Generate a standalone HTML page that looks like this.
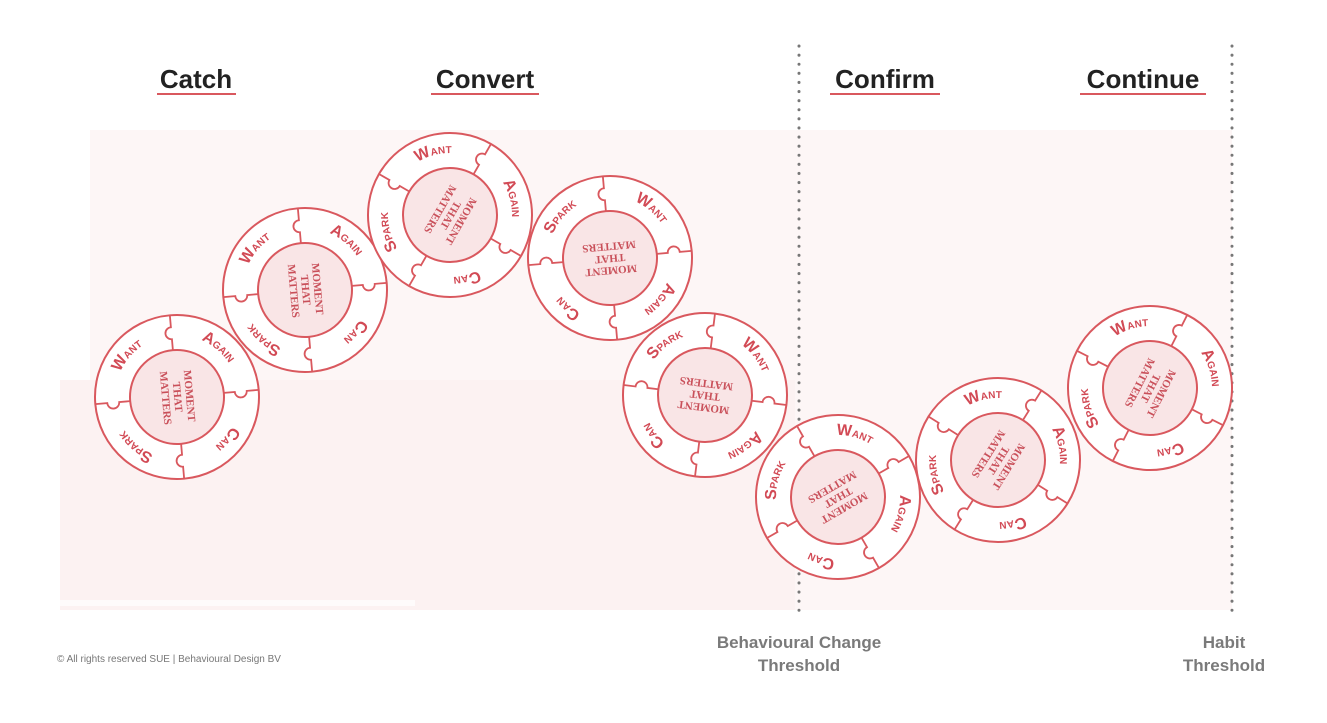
<!DOCTYPE html>
<html><head><meta charset="utf-8"><style>
html,body{margin:0;padding:0;background:#fff;width:1327px;height:723px;overflow:hidden}
svg{display:block}
</style></head><body>
<svg width="1327" height="723" viewBox="0 0 1327 723" xmlns="http://www.w3.org/2000/svg">
<defs>
<path id="arc" d="M0,-62 A62,62 0 1,1 0,62 A62,62 0 1,1 0,-62"/>
</defs>
<!-- background -->
<rect x="90" y="130" width="705" height="480" fill="#fdf6f6"/>
<rect x="60" y="380" width="740" height="230" fill="#fcf2f2"/>
<rect x="795" y="130" width="437" height="480" fill="#fdf6f6"/>
<rect x="60" y="600" width="355" height="6" fill="#fff" opacity=".7"/>

<!-- headings -->
<g font-family="Liberation Sans, sans-serif" font-weight="bold" font-size="26" fill="#222" text-anchor="middle">
<text x="196" y="88">Catch</text>
<text x="485" y="88">Convert</text>
<text x="885" y="88">Confirm</text>
<text x="1143" y="88">Continue</text>
</g>
<g stroke="#d9585e" stroke-width="2">
<line x1="157" y1="94" x2="236" y2="94"/>
<line x1="431" y1="94" x2="539" y2="94"/>
<line x1="830" y1="94" x2="940" y2="94"/>
<line x1="1080" y1="94" x2="1206" y2="94"/>
</g>

<!-- dotted lines -->
<g stroke="#777" stroke-width="3" stroke-linecap="round" stroke-dasharray="0.1 9">
<line x1="799" y1="46" x2="799" y2="612"/>
<line x1="1232" y1="46" x2="1232" y2="612"/>
</g>

<g font-family="Liberation Sans, sans-serif" font-weight="bold" font-size="17" fill="#7a7a7a" text-anchor="middle">
<text x="799" y="648">Behavioural Change</text>
<text x="799" y="671">Threshold</text>
<text x="1224" y="648">Habit</text>
<text x="1224" y="671">Threshold</text>
</g>
<text x="57" y="662" font-family="Liberation Sans, sans-serif" font-size="10" fill="#777">© All rights reserved SUE | Behavioural Design BV</text>

<!-- wheels -->
<g id="w1" transform="translate(177,397) rotate(-5)">
<circle r="82" fill="#fff" stroke="#d9585e" stroke-width="2"/>
<g stroke="#d9585e" stroke-width="1.8" fill="none">
<path d="M0,-47 V-58 a6,6 0 1,1 0,-12 V-82"/><path d="M47,0 H58 a6,6 0 1,0 12,0 H82"/>
<path d="M0,47 V58 a6,6 0 1,0 0,12 V82"/><path d="M-47,0 H-58 a6,6 0 1,1 -12,0 H-82"/>
</g>
<circle r="47" fill="#f9e5e6" stroke="#d9585e" stroke-width="2"/>
<g font-family="Liberation Sans, sans-serif" font-weight="bold" fill="#d24a55" font-size="10" text-anchor="middle">
<text><textPath href="#arc" startOffset="12.5%"><tspan font-size="16">A</tspan>GAIN</textPath></text>
<text><textPath href="#arc" startOffset="37.5%"><tspan font-size="16">C</tspan>AN</textPath></text>
<text><textPath href="#arc" startOffset="62.5%"><tspan font-size="16">S</tspan>PARK</textPath></text>
<text><textPath href="#arc" startOffset="87.5%"><tspan font-size="16">W</tspan>ANT</textPath></text>
</g>
<g transform="rotate(90)" font-family="Liberation Serif, serif" font-weight="bold" font-size="11" fill="#c9505a" text-anchor="middle">
<text y="-9">MOMENT</text><text y="3">THAT</text><text y="15">MATTERS</text>
</g>
</g>

<g transform="translate(305,290) rotate(-5)">
<circle r="82" fill="#fff" stroke="#d9585e" stroke-width="2"/>
<g stroke="#d9585e" stroke-width="1.8" fill="none">
<path d="M0,-47 V-58 a6,6 0 1,1 0,-12 V-82"/><path d="M47,0 H58 a6,6 0 1,0 12,0 H82"/>
<path d="M0,47 V58 a6,6 0 1,0 0,12 V82"/><path d="M-47,0 H-58 a6,6 0 1,1 -12,0 H-82"/>
</g>
<circle r="47" fill="#f9e5e6" stroke="#d9585e" stroke-width="2"/>
<g font-family="Liberation Sans, sans-serif" font-weight="bold" fill="#d24a55" font-size="10" text-anchor="middle">
<text><textPath href="#arc" startOffset="12.5%"><tspan font-size="16">A</tspan>GAIN</textPath></text>
<text><textPath href="#arc" startOffset="37.5%"><tspan font-size="16">C</tspan>AN</textPath></text>
<text><textPath href="#arc" startOffset="62.5%"><tspan font-size="16">S</tspan>PARK</textPath></text>
<text><textPath href="#arc" startOffset="87.5%"><tspan font-size="16">W</tspan>ANT</textPath></text>
</g>
<g transform="rotate(90)" font-family="Liberation Serif, serif" font-weight="bold" font-size="11" fill="#c9505a" text-anchor="middle">
<text y="-9">MOMENT</text><text y="3">THAT</text><text y="15">MATTERS</text>
</g>
</g>

<g transform="translate(450,215) rotate(30)">
<circle r="82" fill="#fff" stroke="#d9585e" stroke-width="2"/>
<g stroke="#d9585e" stroke-width="1.8" fill="none">
<path d="M0,-47 V-58 a6,6 0 1,1 0,-12 V-82"/><path d="M47,0 H58 a6,6 0 1,0 12,0 H82"/>
<path d="M0,47 V58 a6,6 0 1,0 0,12 V82"/><path d="M-47,0 H-58 a6,6 0 1,1 -12,0 H-82"/>
</g>
<circle r="47" fill="#f9e5e6" stroke="#d9585e" stroke-width="2"/>
<g font-family="Liberation Sans, sans-serif" font-weight="bold" fill="#d24a55" font-size="10" text-anchor="middle">
<text><textPath href="#arc" startOffset="12.5%"><tspan font-size="16">A</tspan>GAIN</textPath></text>
<text><textPath href="#arc" startOffset="37.5%"><tspan font-size="16">C</tspan>AN</textPath></text>
<text><textPath href="#arc" startOffset="62.5%"><tspan font-size="16">S</tspan>PARK</textPath></text>
<text><textPath href="#arc" startOffset="87.5%"><tspan font-size="16">W</tspan>ANT</textPath></text>
</g>
<g transform="rotate(90)" font-family="Liberation Serif, serif" font-weight="bold" font-size="11" fill="#c9505a" text-anchor="middle">
<text y="-9">MOMENT</text><text y="3">THAT</text><text y="15">MATTERS</text>
</g>
</g>

<g transform="translate(705,395) rotate(97)">
<circle r="82" fill="#fff" stroke="#d9585e" stroke-width="2"/>
<g stroke="#d9585e" stroke-width="1.8" fill="none">
<path d="M0,-47 V-58 a6,6 0 1,1 0,-12 V-82"/><path d="M47,0 H58 a6,6 0 1,0 12,0 H82"/>
<path d="M0,47 V58 a6,6 0 1,0 0,12 V82"/><path d="M-47,0 H-58 a6,6 0 1,1 -12,0 H-82"/>
</g>
<circle r="47" fill="#f9e5e6" stroke="#d9585e" stroke-width="2"/>
<g font-family="Liberation Sans, sans-serif" font-weight="bold" fill="#d24a55" font-size="10" text-anchor="middle">
<text><textPath href="#arc" startOffset="12.5%"><tspan font-size="16">A</tspan>GAIN</textPath></text>
<text><textPath href="#arc" startOffset="37.5%"><tspan font-size="16">C</tspan>AN</textPath></text>
<text><textPath href="#arc" startOffset="62.5%"><tspan font-size="16">S</tspan>PARK</textPath></text>
<text><textPath href="#arc" startOffset="87.5%"><tspan font-size="16">W</tspan>ANT</textPath></text>
</g>
<g transform="rotate(90)" font-family="Liberation Serif, serif" font-weight="bold" font-size="11" fill="#c9505a" text-anchor="middle">
<text y="-9">MOMENT</text><text y="3">THAT</text><text y="15">MATTERS</text>
</g>
</g>

<g transform="translate(610,258) rotate(85)">
<circle r="82" fill="#fff" stroke="#d9585e" stroke-width="2"/>
<g stroke="#d9585e" stroke-width="1.8" fill="none">
<path d="M0,-47 V-58 a6,6 0 1,1 0,-12 V-82"/><path d="M47,0 H58 a6,6 0 1,0 12,0 H82"/>
<path d="M0,47 V58 a6,6 0 1,0 0,12 V82"/><path d="M-47,0 H-58 a6,6 0 1,1 -12,0 H-82"/>
</g>
<circle r="47" fill="#f9e5e6" stroke="#d9585e" stroke-width="2"/>
<g font-family="Liberation Sans, sans-serif" font-weight="bold" fill="#d24a55" font-size="10" text-anchor="middle">
<text><textPath href="#arc" startOffset="12.5%"><tspan font-size="16">A</tspan>GAIN</textPath></text>
<text><textPath href="#arc" startOffset="37.5%"><tspan font-size="16">C</tspan>AN</textPath></text>
<text><textPath href="#arc" startOffset="62.5%"><tspan font-size="16">S</tspan>PARK</textPath></text>
<text><textPath href="#arc" startOffset="87.5%"><tspan font-size="16">W</tspan>ANT</textPath></text>
</g>
<g transform="rotate(90)" font-family="Liberation Serif, serif" font-weight="bold" font-size="11" fill="#c9505a" text-anchor="middle">
<text y="-9">MOMENT</text><text y="3">THAT</text><text y="15">MATTERS</text>
</g>
</g>

<g transform="translate(838,497) rotate(60)">
<circle r="82" fill="#fff" stroke="#d9585e" stroke-width="2"/>
<g stroke="#d9585e" stroke-width="1.8" fill="none">
<path d="M0,-47 V-58 a6,6 0 1,1 0,-12 V-82"/><path d="M47,0 H58 a6,6 0 1,0 12,0 H82"/>
<path d="M0,47 V58 a6,6 0 1,0 0,12 V82"/><path d="M-47,0 H-58 a6,6 0 1,1 -12,0 H-82"/>
</g>
<circle r="47" fill="#f9e5e6" stroke="#d9585e" stroke-width="2"/>
<g font-family="Liberation Sans, sans-serif" font-weight="bold" fill="#d24a55" font-size="10" text-anchor="middle">
<text><textPath href="#arc" startOffset="12.5%"><tspan font-size="16">A</tspan>GAIN</textPath></text>
<text><textPath href="#arc" startOffset="37.5%"><tspan font-size="16">C</tspan>AN</textPath></text>
<text><textPath href="#arc" startOffset="62.5%"><tspan font-size="16">S</tspan>PARK</textPath></text>
<text><textPath href="#arc" startOffset="87.5%"><tspan font-size="16">W</tspan>ANT</textPath></text>
</g>
<g transform="rotate(90)" font-family="Liberation Serif, serif" font-weight="bold" font-size="11" fill="#c9505a" text-anchor="middle">
<text y="-9">MOMENT</text><text y="3">THAT</text><text y="15">MATTERS</text>
</g>
</g>

<g transform="translate(998,460) rotate(32)">
<circle r="82" fill="#fff" stroke="#d9585e" stroke-width="2"/>
<g stroke="#d9585e" stroke-width="1.8" fill="none">
<path d="M0,-47 V-58 a6,6 0 1,1 0,-12 V-82"/><path d="M47,0 H58 a6,6 0 1,0 12,0 H82"/>
<path d="M0,47 V58 a6,6 0 1,0 0,12 V82"/><path d="M-47,0 H-58 a6,6 0 1,1 -12,0 H-82"/>
</g>
<circle r="47" fill="#f9e5e6" stroke="#d9585e" stroke-width="2"/>
<g font-family="Liberation Sans, sans-serif" font-weight="bold" fill="#d24a55" font-size="10" text-anchor="middle">
<text><textPath href="#arc" startOffset="12.5%"><tspan font-size="16">A</tspan>GAIN</textPath></text>
<text><textPath href="#arc" startOffset="37.5%"><tspan font-size="16">C</tspan>AN</textPath></text>
<text><textPath href="#arc" startOffset="62.5%"><tspan font-size="16">S</tspan>PARK</textPath></text>
<text><textPath href="#arc" startOffset="87.5%"><tspan font-size="16">W</tspan>ANT</textPath></text>
</g>
<g transform="rotate(90)" font-family="Liberation Serif, serif" font-weight="bold" font-size="11" fill="#c9505a" text-anchor="middle">
<text y="-9">MOMENT</text><text y="3">THAT</text><text y="15">MATTERS</text>
</g>
</g>

<g transform="translate(1150,388) rotate(27)">
<circle r="82" fill="#fff" stroke="#d9585e" stroke-width="2"/>
<g stroke="#d9585e" stroke-width="1.8" fill="none">
<path d="M0,-47 V-58 a6,6 0 1,1 0,-12 V-82"/><path d="M47,0 H58 a6,6 0 1,0 12,0 H82"/>
<path d="M0,47 V58 a6,6 0 1,0 0,12 V82"/><path d="M-47,0 H-58 a6,6 0 1,1 -12,0 H-82"/>
</g>
<circle r="47" fill="#f9e5e6" stroke="#d9585e" stroke-width="2"/>
<g font-family="Liberation Sans, sans-serif" font-weight="bold" fill="#d24a55" font-size="10" text-anchor="middle">
<text><textPath href="#arc" startOffset="12.5%"><tspan font-size="16">A</tspan>GAIN</textPath></text>
<text><textPath href="#arc" startOffset="37.5%"><tspan font-size="16">C</tspan>AN</textPath></text>
<text><textPath href="#arc" startOffset="62.5%"><tspan font-size="16">S</tspan>PARK</textPath></text>
<text><textPath href="#arc" startOffset="87.5%"><tspan font-size="16">W</tspan>ANT</textPath></text>
</g>
<g transform="rotate(90)" font-family="Liberation Serif, serif" font-weight="bold" font-size="11" fill="#c9505a" text-anchor="middle">
<text y="-9">MOMENT</text><text y="3">THAT</text><text y="15">MATTERS</text>
</g>
</g>
</svg>
</body></html>
